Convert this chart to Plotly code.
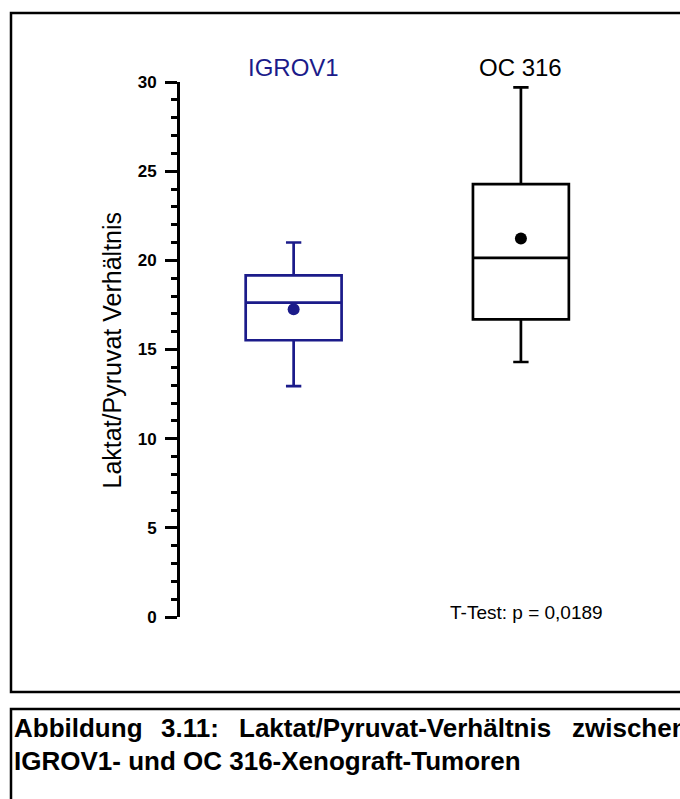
import plotly.graph_objects as go

# ---- data ----
categories = ["IGROV1", "OC 316"]
lower_whisker = [12.95, 14.30]
q1_values = [15.52, 16.69]
median_values = [17.63, 20.14]
q3_values = [19.16, 24.27]
upper_whisker = [21.0, 29.70]
mean_values = [17.26, 21.22]
series_colors = ["#1b1b8a", "#000000"]
y_tick_values = [0, 5, 10, 15, 20, 25, 30]
y_title = "Laktat/Pyruvat Verhältnis"
test_label = "T-Test: p = 0,0189"
caption_line1_words = ["Abbildung", "3.11:", "Laktat/Pyruvat-Verhältnis", "zwischen"]
caption_line2 = "IGROV1- und OC 316-Xenograft-Tumoren"

W, H = 680, 799
L, R, T, B = 180, 0, 82, 182
PW, PH = W - L - R, H - T - B


def px(x):
    return (x - L) / PW


def py(y):
    return (H - B - y) / PH


FONT = "Liberation Sans, Arial, Helvetica, sans-serif"

fig = go.Figure()
for i, cat in enumerate(categories):
    fig.add_trace(go.Box(
        x=[cat],
        q1=[q1_values[i]], median=[median_values[i]], q3=[q3_values[i]],
        lowerfence=[lower_whisker[i]], upperfence=[upper_whisker[i]],
        boxpoints=False, width=0.422, whiskerwidth=0.16,
        line=dict(color=series_colors[i], width=2.7),
        fillcolor="rgba(0,0,0,0)", showlegend=False, hoverinfo="skip",
    ))
    fig.add_trace(go.Scatter(
        x=[cat], y=[mean_values[i]], mode="markers",
        marker=dict(size=12, color=series_colors[i]),
        showlegend=False, hoverinfo="skip",
    ))
    fig.add_annotation(
        x=cat, xref="x", y=py(67), yref="paper", text=cat, showarrow=False,
        font=dict(family=FONT, size=24, color=series_colors[i]),
        xanchor="center", yanchor="middle",
    )

fig.update_xaxes(type="category", categoryarray=categories, range=[-0.5, 1.7],
                 visible=False, fixedrange=True)
fig.update_yaxes(
    range=[0, 30], tickvals=y_tick_values, showgrid=False, zeroline=False,
    showline=True, linecolor="black", linewidth=3,
    ticks="outside", ticklen=12, tickwidth=2.5, tickcolor="black",
    ticklabelstandoff=5,
    tickfont=dict(family=FONT, size=17, color="black", weight="bold"),
    minor=dict(dtick=1, ticks="outside", ticklen=6, tickwidth=2.5, tickcolor="black",
               showgrid=False),
)

fig.add_annotation(
    x=px(111.5), xref="paper", y=py(350), yref="paper", text=y_title,
    textangle=-90, showarrow=False,
    font=dict(family=FONT, size=25, color="black"),
    xanchor="center", yanchor="middle",
)
fig.add_annotation(
    x=px(448), xref="paper", y=py(612), yref="paper", text=test_label,
    showarrow=False, font=dict(family=FONT, size=19, color="black"),
    xanchor="left", yanchor="middle",
)

# frames
fig.add_shape(type="rect", xref="paper", yref="paper",
              x0=px(11), x1=px(700), y0=py(692), y1=py(13),
              line=dict(color="black", width=2.5), fillcolor="rgba(0,0,0,0)")
fig.add_shape(type="rect", xref="paper", yref="paper",
              x0=px(11), x1=px(700), y0=py(830), y1=py(709),
              line=dict(color="black", width=2.5), fillcolor="rgba(0,0,0,0)")

# caption
word_x = [12, 159, 237, 570]
for wx, word in zip(word_x, caption_line1_words):
    fig.add_annotation(
        x=px(wx), xref="paper", y=py(728), yref="paper", text="<b>" + word + "</b>",
        showarrow=False, font=dict(family=FONT, size=26, color="black"),
        xanchor="left", yanchor="middle",
    )
fig.add_annotation(
    x=px(12), xref="paper", y=py(761), yref="paper", text="<b>" + caption_line2 + "</b>",
    showarrow=False, font=dict(family=FONT, size=26, color="black"),
    xanchor="left", yanchor="middle",
)

fig.update_layout(
    width=W, height=H, margin=dict(l=L, r=R, t=T, b=B, autoexpand=False),
    paper_bgcolor="white", plot_bgcolor="white",
)
fig.write_html("out.html")
